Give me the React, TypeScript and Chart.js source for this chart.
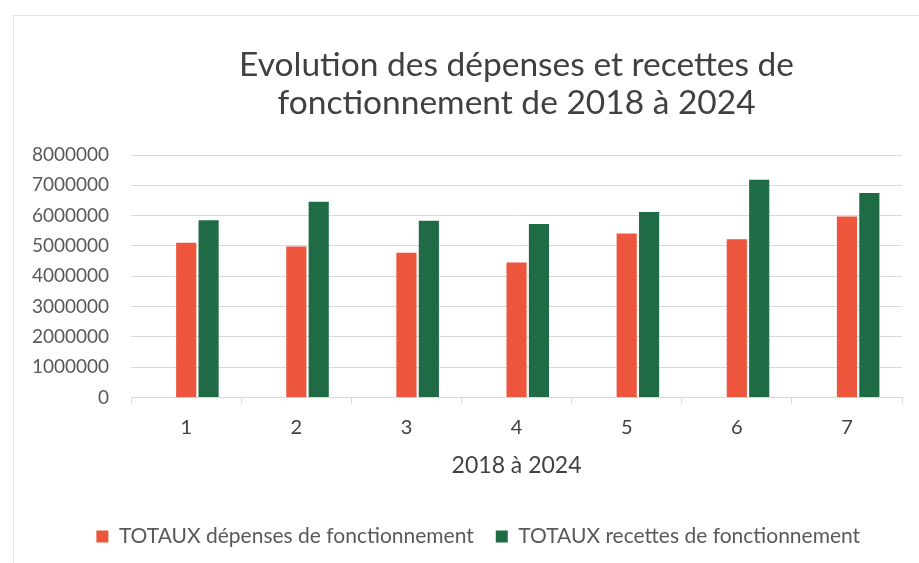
import React, { useEffect, useRef } from "react";
import { Chart, registerables } from "chart.js";

Chart.register(...registerables);

const categories = ["1", "2", "3", "4", "5", "6", "7"];
const depenses = [5100000, 4980000, 4770000, 4450000, 5410000, 5220000, 5970000];
const recettes = [5850000, 6460000, 5830000, 5720000, 6120000, 7180000, 6750000];
const emptySlot = [null, null, null, null, null, null, null];
const seriesLabels = ["TOTAUX dépenses de fonctionnement", "TOTAUX recettes de fonctionnement"];
const titleLines = ["Evolution des dépenses et recettes de", "fonctionnement de 2018 à 2024"];
const xAxisTitle = "2018 à 2024";
const yTicks = [0, 1000000, 2000000, 3000000, 4000000, 5000000, 6000000, 7000000, 8000000];

const FONT = "Lato";
const TEXT = "#595959";
const GRID = "#d9d9d9";

const titlePlugin = {
  id: "centeredTitle",
  afterDraw(chart: any) {
    const { ctx, chartArea } = chart;
    const cx = (chartArea.left + chartArea.right) / 2;
    ctx.save();
    ctx.fillStyle = "#404040";
    ctx.font = `33.5px ${FONT}`;
    ctx.textAlign = "center";
    ctx.textBaseline = "middle";
    ctx.fillText(titleLines[0], cx, 49);
    ctx.fillText(titleLines[1], cx, 87);
    ctx.restore();
  },
};

export default function App() {
  const ref = useRef<HTMLCanvasElement | null>(null);
  useEffect(() => {
    if (!ref.current) return;
    const chart = new Chart(ref.current, {
      type: "bar",
      data: {
        labels: categories,
        datasets: [
          { label: "", data: emptySlot as any, backgroundColor: "rgba(0,0,0,0)", borderWidth: 0 },
          { label: seriesLabels[0], data: depenses, backgroundColor: "#ED553C" },
          { label: seriesLabels[1], data: recettes, backgroundColor: "#1F6B45" },
        ],
      },
      options: {
        animation: false,
        responsive: false,
        maintainAspectRatio: false,
        datasets: { bar: { categoryPercentage: 0.61, barPercentage: 0.9 } },
        layout: { padding: { top: 139, left: 0, right: 16, bottom: 6 } },
        plugins: {
          title: { display: false },
          tooltip: { enabled: false },
          legend: {
            position: "bottom",
            labels: {
              boxWidth: 12,
              boxHeight: 12,
              color: TEXT,
              padding: 22,
              font: { family: FONT, size: 21 },
            },
          },
        },
        scales: {
          x: {
            offset: true,
            grid: { offset: true, drawOnChartArea: false, color: GRID, tickLength: 6 },
            border: { display: true, color: GRID },
            ticks: { color: "#404040", padding: 12, font: { family: FONT, size: 20 } },
            title: {
              display: true,
              text: xAxisTitle,
              color: "#404040",
              padding: { top: 0, bottom: 25 },
              font: { family: FONT, size: 23 },
            },
          },
          y: {
            min: 0,
            max: 8000000,
            afterBuildTicks: (axis: any) => {
              axis.ticks = yTicks.map((v) => ({ value: v }));
            },
            grid: { color: GRID, drawTicks: false },
            border: { display: false },
            ticks: {
              color: TEXT,
              padding: 22,
              font: { family: FONT, size: 19 },
              callback: (v: any) => String(v),
            },
          },
        },
      },
      plugins: [titlePlugin],
    });
    return () => chart.destroy();
  }, []);

  return (
    <div
      style={{
        position: "fixed",
        left: 13,
        top: 15,
        width: 906,
        height: 548,
        borderTop: "1px solid #e3e3e3",
        borderLeft: "1px solid #e3e3e3",
        background: "#fff",
      }}
    >
      <canvas
        ref={ref}
        width={908}
        height={547}
        style={{ display: "block", position: "absolute", left: -4, top: 0 }}
      />
    </div>
  );
}
